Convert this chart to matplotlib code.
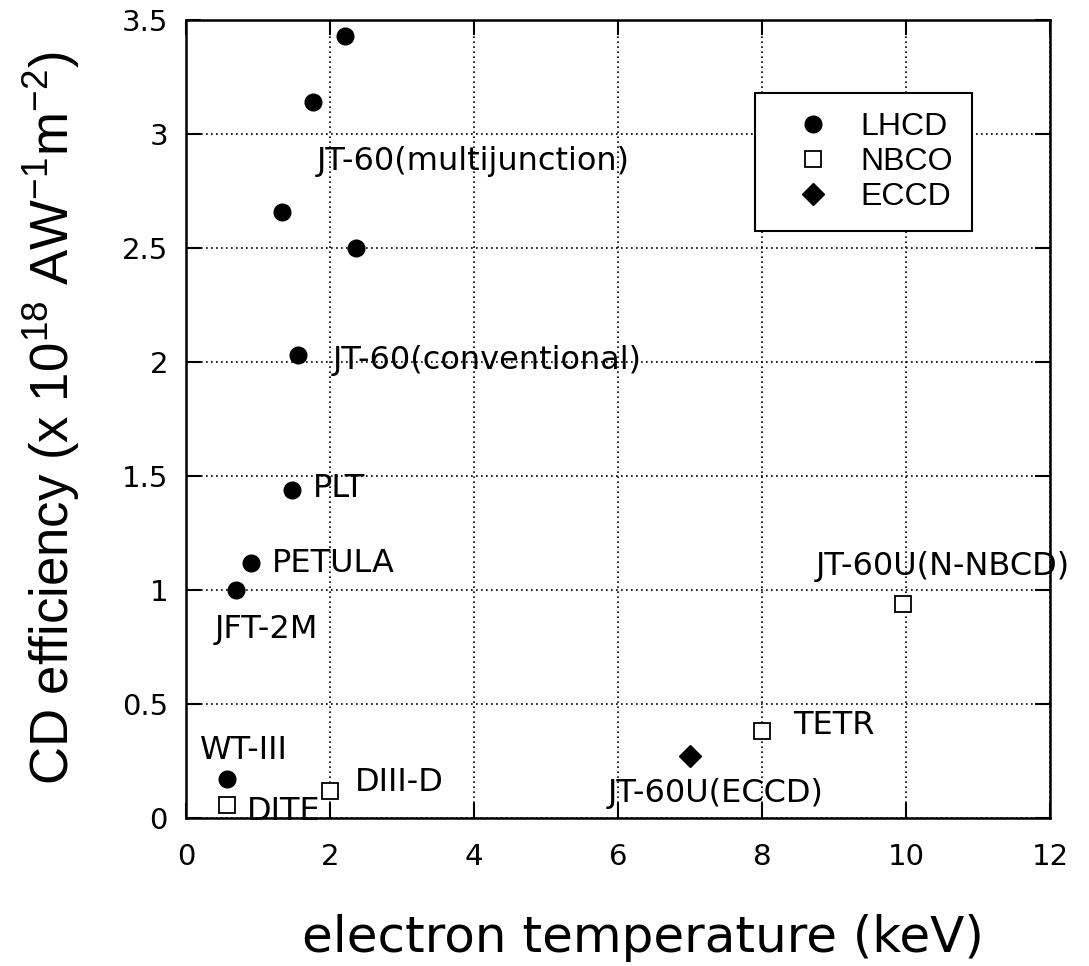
import matplotlib

matplotlib.use("Agg")
import matplotlib.pyplot as plt

# LHCD points (electron temperature keV, CD efficiency 1e18 A/W/m^2)
lhcd_te = [2.21, 1.76, 1.33, 2.36, 1.56, 1.47, 0.90, 0.70, 0.57]
lhcd_eff = [3.43, 3.14, 2.66, 2.50, 2.03, 1.44, 1.12, 1.00, 0.17]

# NBCD points
nbco_te = [0.57, 2.00, 8.00, 9.96]
nbco_eff = [0.057, 0.12, 0.38, 0.94]

# ECCD point
eccd_te = [7.00]
eccd_eff = [0.27]

# device annotations: name, x, y (left edge, baseline)
device_names = [
    "JT-60(multijunction)", "JT-60(conventional)", "PLT", "PETULA", "JFT-2M",
    "WT-III", "DITE", "DIII-D", "TETR", "JT-60U(ECCD)", "JT-60U(N-NBCD)",
]
device_x = [1.82, 2.04, 1.76, 1.19, 0.40, 0.19, 0.85, 2.35, 8.43, 5.86, 8.74]
device_y = [2.84, 1.97, 1.41, 1.08, 0.79, 0.26, -0.01, 0.12, 0.37, 0.07, 1.066]

x_ticks = [0, 2, 4, 6, 8, 10, 12]
y_ticks = [0, 0.5, 1, 1.5, 2, 2.5, 3, 3.5]
y_tick_labels = ["0", "0.5", "1", "1.5", "2", "2.5", "3", "3.5"]

plt.rcParams["mathtext.fontset"] = "custom"
plt.rcParams["mathtext.rm"] = "Liberation Sans"
plt.rcParams["mathtext.it"] = "Liberation Sans"

fig = plt.figure(figsize=(10.89, 9.66), dpi=100)
ax = fig.add_axes([0.1708, 0.1532, 0.7934, 0.8261])

ax.plot(lhcd_te, lhcd_eff, linestyle="none", marker="o", ms=12,
        color="black", label="LHCD", zorder=3)
ax.plot(nbco_te, nbco_eff, linestyle="none", marker="s", ms=11, mew=1.3,
        mfc="white", mec="black", label="NBCO", zorder=3)
ax.plot(eccd_te, eccd_eff, linestyle="none", marker="D", ms=11,
        color="black", label="ECCD", zorder=3)

for name, tx, ty in zip(device_names, device_x, device_y):
    ax.text(tx, ty, name, fontsize=23, family="DejaVu Sans", va="baseline",
            ha="left", clip_on=False, zorder=1)

ax.set_xlim(0, 12)
ax.set_ylim(0, 3.5)
ax.set_xticks(x_ticks, [str(t) for t in x_ticks])
ax.set_yticks(y_ticks, y_tick_labels)
ax.tick_params(direction="in", length=11, width=1.5, top=True, right=True,
               labelsize=21)
ax.tick_params(axis="x", pad=18)
ax.tick_params(axis="y", pad=13)
ax.grid(True, color="black", linestyle=(0, (1, 2)), linewidth=1.2)
ax.set_axisbelow(True)
for spine in ax.spines.values():
    spine.set_linewidth(1.8)
    spine.set_zorder(4)

leg = ax.legend(loc="upper left", bbox_to_anchor=(0.659, 0.9085),
                borderaxespad=0, fancybox=False, framealpha=1,
                edgecolor="black", handlelength=2.4, handletextpad=0.3,
                borderpad=0.6, labelspacing=0.15,
                prop={"family": "Liberation Sans", "size": 23})
leg.get_frame().set_linewidth(1.5)

fig.text(0.590, 0.014, "electron temperature (keV)", fontsize=36,
         family="DejaVu Sans", ha="center", va="baseline")
fig.text(0.047, 0.567, r"CD efficiency (x 10$^{18}$ AW$^{-1}$m$^{-2}$)",
         fontsize=38, family="Liberation Sans",
         rotation=90, ha="center", va="center")

fig.savefig("out.png", dpi=100)
